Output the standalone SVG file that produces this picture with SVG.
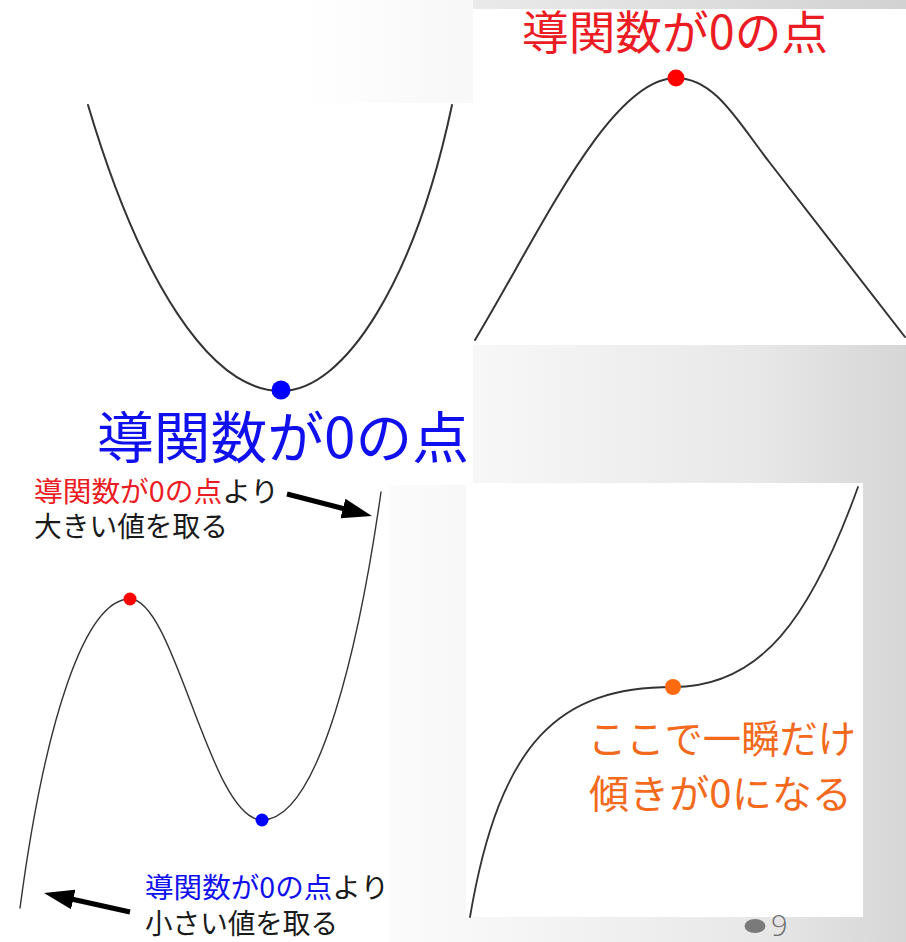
<svg xmlns="http://www.w3.org/2000/svg" width="906" height="942" viewBox="0 0 906 942">
<defs>
<linearGradient id="bg" gradientUnits="userSpaceOnUse" x1="300" y1="0" x2="906" y2="0">
<stop offset="0" stop-color="#ffffff"/>
<stop offset="0.3" stop-color="#f7f7f7"/>
<stop offset="0.75" stop-color="#e8e8e8"/>
<stop offset="1" stop-color="#d6d6d6"/>
</linearGradient>
<linearGradient id="topbar" gradientUnits="userSpaceOnUse" x1="473" y1="0" x2="906" y2="0">
<stop offset="0" stop-color="#eaeaea"/>
<stop offset="1" stop-color="#d2d2d2"/>
</linearGradient>
<marker id="ah" markerUnits="userSpaceOnUse" markerWidth="32" markerHeight="22" refX="10" refY="11" orient="auto" viewBox="0 0 32 22">
<path d="M0,1 L30,11 L0,21 z" fill="#000"/>
</marker>
<style>
.curve{fill:none;stroke:#333;stroke-linecap:round;stroke-linejoin:round}
.jp{font-family:"Noto Sans CJK JP","Noto Sans",sans-serif}
.red{fill:#ec1c24}
.blue{fill:#1010ee}
.blk{fill:#1a1a1a}
.org{fill:#f36a1d}
.panel{fill:#ffffff}
.arrow{stroke:#000;stroke-width:5;fill:none}
</style>
</defs>
<rect x="0" y="0" width="906" height="942" fill="url(#bg)"/>
<rect x="473" y="0" width="433" height="9" fill="url(#topbar)"/>

<g id="panel-parabola">
<rect class="panel" x="0" y="103" width="473" height="382"/>
<path class="curve" stroke-width="2" d="M88,105 C140,280 210,391 281,391 C345,391 415,280 452,105"/>
<circle cx="281" cy="390" r="9.5" fill="#0000ff"/>
<text class="jp blue" x="97" y="458" font-size="56" textLength="372" lengthAdjust="spacingAndGlyphs">導関数が0の点</text>
</g>

<g id="panel-maximum">
<rect class="panel" x="473" y="9" width="433" height="336"/>
<text class="jp red" x="522" y="49" font-size="46" textLength="306" lengthAdjust="spacingAndGlyphs">導関数が0の点</text>
<path class="curve" stroke-width="2" d="M475,340 C540,232 610,78 676,78 C715,78 738,122 770,163 L905,337"/>
<circle cx="676" cy="78" r="8.5" fill="#ff0000"/>
</g>

<g id="panel-cubic">
<rect class="panel" x="0" y="483" width="389" height="459"/>
<path class="curve" stroke-width="1.4" d="M20,908 C45,720 85,599 130,599 C175,599 210,820 262,820 C320,820 360,640 381,492"/>
<circle cx="130" cy="599" r="6.5" fill="#ff0000"/>
<circle cx="262" cy="820" r="6.5" fill="#0000ff"/>
<text class="jp" x="34" y="502" font-size="28" textLength="245" lengthAdjust="spacingAndGlyphs"><tspan class="red">導関数が0の点</tspan><tspan class="blk">より</tspan></text>
<text class="jp blk" x="34" y="537" font-size="28" textLength="194" lengthAdjust="spacingAndGlyphs">大きい値を取る</text>
<text class="jp" x="145" y="898" font-size="28" textLength="244" lengthAdjust="spacingAndGlyphs"><tspan class="blue">導関数が0の点</tspan><tspan class="blk">より</tspan></text>
<text class="jp blk" x="145" y="934" font-size="28" textLength="193" lengthAdjust="spacingAndGlyphs">小さい値を取る</text>
</g>

<g id="panel-inflection">
<rect class="panel" x="466" y="483" width="397" height="434"/>
<path class="curve" stroke-width="1.8" d="M470,917 C500,740 560,687 673,687 C760,687 810,620 858,487"/>
<circle cx="673" cy="687" r="8" fill="#ff6a10"/>
<text class="jp org" x="588" y="753" font-size="39" textLength="268" lengthAdjust="spacingAndGlyphs">ここで一瞬だけ</text>
<text class="jp org" x="589" y="808" font-size="39" textLength="263" lengthAdjust="spacingAndGlyphs">傾きが0になる</text>
</g>

<g id="connectors">
<line class="arrow" x1="287" y1="494" x2="352.6" y2="511" marker-end="url(#ah)"/>
<line class="arrow" x1="130" y1="912" x2="63.5" y2="897.3" marker-end="url(#ah)"/>
</g>

<g id="page-number">
<ellipse cx="755" cy="926" rx="10.5" ry="7" fill="#7a7a7a"/>
<text x="771" y="936" font-family="'Open Sans', Lato, sans-serif" font-weight="300" font-size="29" fill="#6f6f6f">9</text>
</g>
</svg>
